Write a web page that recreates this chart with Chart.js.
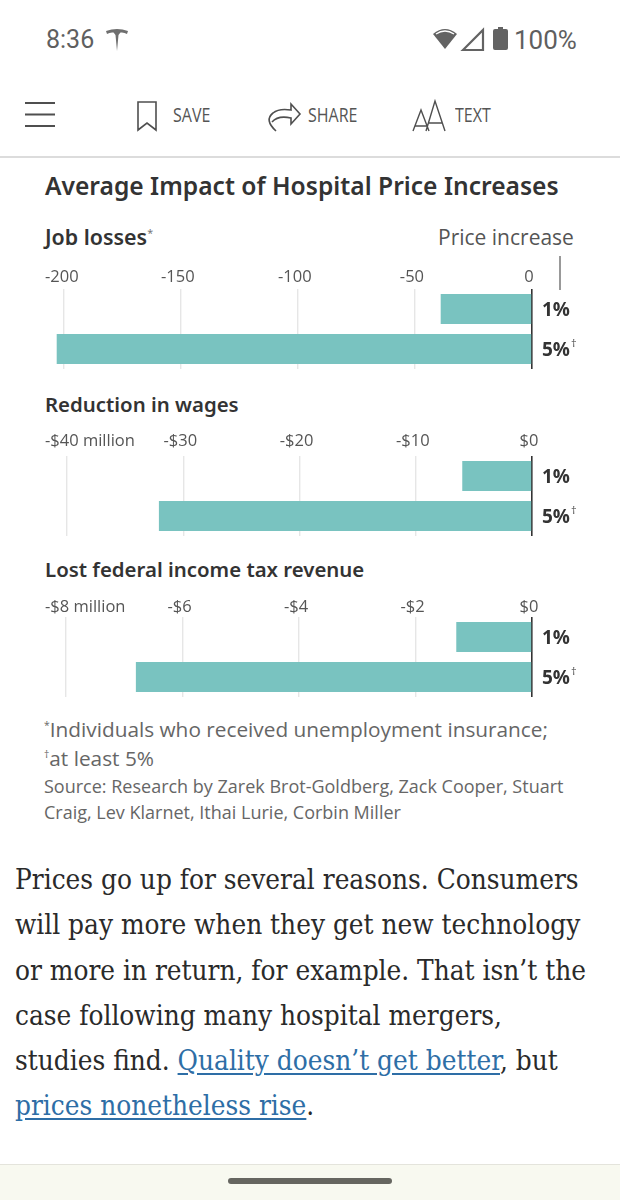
<!DOCTYPE html>
<html>
<head>
<meta charset="utf-8">
<title>Average Impact of Hospital Price Increases</title>
<script src="https://cdn.jsdelivr.net/npm/chart.js@4"></script>
<style>
html, body { margin: 0; padding: 0; background: #fff; }
#page { position: relative; width: 620px; height: 1200px; overflow: hidden; background: #fff; font-family: "Open Sans", sans-serif; color: #333; }
#page > * { position: absolute; }
.txt { white-space: nowrap; line-height: 1; }
.head { left: 45px; font: 600 20.4px "Noto Sans", sans-serif; color: #333; white-space: nowrap; line-height: 1; }
.chart { left: 0; width: 620px; }
.nav { font: 400 19.5px "Open Sans", sans-serif; color: #555; white-space: nowrap; line-height: 1; transform: scaleX(0.82); transform-origin: left top; }
.note { left: 44px; color: #666; white-space: nowrap; line-height: 1; font-family: "Open Sans", sans-serif; }
.body { left: 15px; font: 400 27.7px "DejaVu Serif Condensed", "DejaVu Serif", serif; color: #2a2a2a; white-space: nowrap; line-height: 1; }
.body a { color: #2e6ea6; text-decoration: underline; text-underline-offset: 3px; }
sup { font-size: 0.5em; line-height: 0; font-weight: 400; }
</style>
</head>
<body>
<div id="page">
  <div class="txt" style="left:46px;top:25px;font:400 25px 'Roboto',sans-serif;color:#5f5f5f;">8:36</div>
  <svg style="left:104px;top:27px;" width="26" height="26" viewBox="0 0 26 26"><path d="M2 4 Q13 0 24 4 L23 7 Q20 5 16.5 5.5 Q15 7 14.5 8 L13 24 L11.5 8 Q11 7 9.5 5.5 Q6 5 3 7 Z" fill="#6f6f6f"/></svg>
  <svg style="left:430px;top:24px;" width="62" height="30" viewBox="0 0 62 30">
    <path d="M3 10 Q15 0 27 10 L15 25 Z" fill="#636363"/>
    <path d="M6 10 Q15 4 24 10" fill="none" stroke="#fff" stroke-width="1.4"/>
    <path d="M33 26 L53 6 V26 Z" fill="none" stroke="#636363" stroke-width="2.2"/>
  </svg>
  <svg style="left:492px;top:25px;" width="18" height="28" viewBox="0 0 18 28"><path d="M6 2 H11 V4 H14 Q16 4 16 6 V23 Q16 25 14 25 H3 Q1 25 1 23 V6 Q1 4 3 4 H6 Z" fill="#636363"/></svg>
  <div class="txt" style="left:514px;top:25px;font:400 26px 'Roboto',sans-serif;color:#5f5f5f;">100%</div>

  <svg style="left:0;top:90px;" width="620" height="56" viewBox="0 0 620 56" fill="none" stroke="#4f4f4f">
    <path d="M25 13 H55 M25 24.5 H55 M25 36 H55" stroke-width="1.8"/>
    <path d="M138 12 H156 V40 L147 33 L138 40 Z" stroke-width="1.6"/>
    <path d="M276 41 Q264 30 273 23 Q279 18 291 20 V14 L300 24 L291 34 V28 Q278 25 272 32" stroke-width="1.6"/>
    <path d="M413 41 L421 20 L429 41 M415 36 H427 M426 41 L435 11 L445 41 M429 33 H442" stroke-width="1.4"/>
  </svg>
  <div class="nav" style="left:173px;top:105px;">SAVE</div>
  <div class="nav" style="left:308px;top:105px;">SHARE</div>
  <div class="nav" style="left:455px;top:105px;">TEXT</div>
  <div style="left:0;top:156px;width:620px;height:1.5px;background:#dcdcdc;"></div>

  <div class="txt" style="left:45px;top:169px;font:600 24.6px 'Noto Sans',sans-serif;color:#333;">Average Impact of Hospital Price Increases</div>

  <div class="head" style="top:226px;font-size:21.4px;">Job losses<sup style="color:#777;">*</sup></div>
  <div class="txt" style="left:438px;top:223px;font:400 21px 'Open Sans',sans-serif;color:#555;">Price increase</div>
  <div style="left:559px;top:256px;width:1.5px;height:34px;background:#999;"></div>
  <div class="chart" style="top:260px;height:120px;"><canvas id="jobs"></canvas></div>

  <div class="head" style="top:394px;">Reduction in wages</div>
  <div class="chart" style="top:427px;height:120px;"><canvas id="wages"></canvas></div>

  <div class="head" style="top:559px;">Lost federal income tax revenue</div>
  <div class="chart" style="top:588px;height:120px;"><canvas id="tax"></canvas></div>

  <div class="note" style="top:719px;font-size:20.8px;"><sup>*</sup>Individuals who received unemployment insurance;</div>
  <div class="note" style="top:748px;font-size:20.8px;"><sup>†</sup>at least 5%</div>
  <div class="note" style="top:777px;font-size:18px;">Source: Research by Zarek Brot-Goldberg, Zack Cooper, Stuart</div>
  <div class="note" style="top:803px;font-size:18px;">Craig, Lev Klarnet, Ithai Lurie, Corbin Miller</div>

  <div class="body" style="top:866px;">Prices go up for several reasons. Consumers</div>
  <div class="body" style="top:911px;">will pay more when they get new technology</div>
  <div class="body" style="top:957px;">or more in return, for example. That isn’t the</div>
  <div class="body" style="top:1002px;">case following many hospital mergers,</div>
  <div class="body" style="top:1047px;">studies find. <a>Quality doesn’t get better</a>, but</div>
  <div class="body" style="top:1092px;"><a>prices nonetheless rise</a>.</div>

  <div style="left:0;top:1164px;width:620px;height:36px;background:#f8f9f0;border-top:1px solid #e4e4dc;box-sizing:border-box;"></div>
  <div style="left:228px;top:1178px;width:164px;height:6px;border-radius:3px;background:#666660;"></div>
</div>

<script>
(function() {
    'use strict';

    // Data
    var categories = ['1%', '5%'];
    var footMarks = ['', '†'];

    var jobValues = [-39, -203];
    var jobTicks = [-200, -150, -100, -50, 0];
    var jobLabels = ['-200', '-150', '-100', '-50', '0'];

    var wageValues = [-6, -32.1];
    var wageTicks = [-40, -30, -20, -10, 0];
    var wageLabels = ['-$40 million', '-$30', '-$20', '-$10', '$0'];

    var taxValues = [-1.3, -6.8];
    var taxTicks = [-8, -6, -4, -2, 0];
    var taxLabels = ['-$8 million', '-$6', '-$4', '-$2', '$0'];

    var BAR_COLOR = '#79c3c0';
    var LEFT_EDGE = 45;

    // Labels on the top axis: first one hangs from the left edge, the rest sit centred
    var topLabels = {
        id: 'topLabels',
        afterDraw: function(chart, args, opts) {
            var c = chart.ctx;
            var x = chart.scales.x;
            var y = chart.scales.y;
            c.save();
            c.font = '400 16.5px "Open Sans", sans-serif';
            c.fillStyle = '#555';
            c.textBaseline = 'alphabetic';
            opts.ticks.forEach(function(v, i) {
                var px = x.getPixelForValue(v);
                var w = c.measureText(opts.labels[i]).width;
                var left = px - w / 2 - 3;
                if (left < LEFT_EDGE) left = LEFT_EDGE;
                c.fillText(opts.labels[i], left, y.top + opts.labelY);
            });
            // dagger beside the category label
            c.fillStyle = '#444';
            categories.forEach(function(cat, i) {
                if (!footMarks[i]) return;
                c.font = '700 19px "Open Sans", sans-serif';
                var w = c.measureText(cat).width;
                c.font = '400 11px "Open Sans", sans-serif';
                c.fillText(footMarks[i], x.right + 10 + w + 1, y.getPixelForTick(i) - 2);
            });
            c.restore();
        }
    };

    function drawChart(id, values, ticks, labels, axisMin, labelY) {
        new Chart(document.getElementById(id), {
            type: 'bar',
            data: {
                labels: categories,
                datasets: [{
                    data: values,
                    backgroundColor: BAR_COLOR,
                    barPercentage: 0.75,
                    categoryPercentage: 1
                }]
            },
            plugins: [topLabels],
            options: {
                indexAxis: 'y',
                responsive: false,
                animation: false,
                layout: { padding: { left: LEFT_EDGE, right: 0, top: 29, bottom: 11 } },
                plugins: {
                    legend: { display: false },
                    tooltip: { enabled: false },
                    topLabels: { ticks: ticks, labels: labels, labelY: labelY }
                },
                scales: {
                    x: {
                        position: 'top',
                        min: axisMin,
                        max: 0,
                        afterBuildTicks: function(scale) {
                            scale.ticks = ticks.map(function(v) { return { value: v }; });
                        },
                        afterFit: function(scale) { scale.height = 0; },
                        ticks: { display: false },
                        border: { display: false },
                        grid: {
                            drawTicks: false,
                            color: function(ctx) { return ctx.tick && ctx.tick.value === 0 ? '#333' : '#e6e6e6'; },
                            lineWidth: function(ctx) { return ctx.tick && ctx.tick.value === 0 ? 1.6 : 1.4; }
                        }
                    },
                    y: {
                        position: 'right',
                        afterFit: function(scale) {
                            scale.width = 88;
                            scale.paddingTop = 0;
                            scale.paddingBottom = 0;
                        },
                        border: { display: false },
                        grid: { display: false, drawTicks: false },
                        ticks: {
                            padding: 10,
                            labelOffset: 1.5,
                            color: '#333',
                            font: { family: '"Open Sans", sans-serif', size: 19, weight: '700' }
                        }
                    }
                }
            }
        });
    }

    function sizeCanvas(id) {
        var el = document.getElementById(id);
        el.width = 620;
        el.height = 120;
        el.style.width = '620px';
        el.style.height = '120px';
    }

    ['jobs', 'wages', 'tax'].forEach(sizeCanvas);
    drawChart('jobs', jobValues, jobTicks, jobLabels, -208, -7);
    drawChart('wages', wageValues, wageTicks, wageLabels, -41.9, -10);
    drawChart('tax', taxValues, taxTicks, taxLabels, -8.36, -5);
})();
</script>
</body>
</html>
